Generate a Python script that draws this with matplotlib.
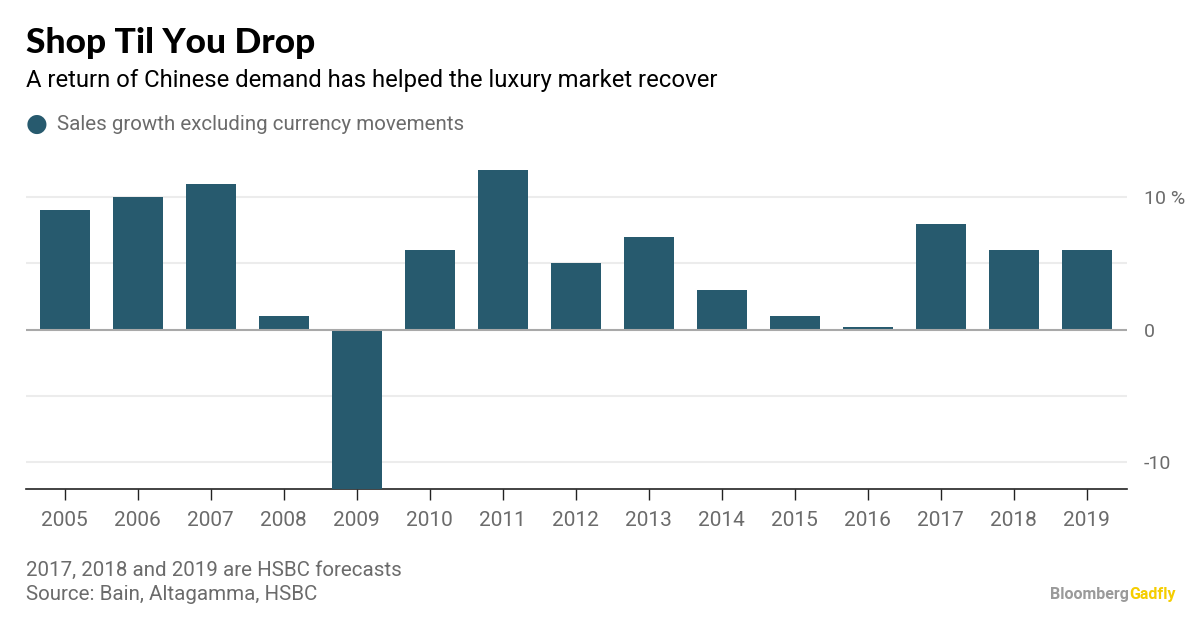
import numpy as np
import matplotlib.pyplot as plt

# data
years = ['2005', '2006', '2007', '2008', '2009', '2010', '2011', '2012',
         '2013', '2014', '2015', '2016', '2017', '2018', '2019']
growth = [9, 10, 11, 1, -13, 6, 12, 5, 7, 3, 1, 0.2, 8, 6, 6]
yticks = [-10, 0, 10]
ytick_labels = ['-10', '0', '10 %']

bar_color = '#275a6e'
grey = '#6b6b6b'
plt.rcParams['font.family'] = ['Roboto', 'DejaVu Sans']

fig = plt.figure(figsize=(12, 6.18), dpi=100)
ax = fig.add_axes([0.0217, 0.2087, 0.9175, 0.522])

x = np.arange(len(years))
ax.bar(x, growth, width=0.68, color=bar_color, zorder=3)

ax.set_xlim(-0.53, len(years) - 1 + 0.55)
ax.set_ylim(-12, 12.3)

# grid
for g in [-10, -5, 5, 10]:
    ax.axhline(g, color='#ececec', lw=1.5, zorder=1)
ax.axhline(0, color='#a9a9a9', lw=1.5, zorder=4)

ax.yaxis.tick_right()
ax.set_yticks(yticks)
ax.set_yticklabels(ytick_labels)
ax.tick_params(axis='y', length=0, pad=12, labelsize=14, labelcolor=grey)

ax.set_xticks(x)
ax.set_xticklabels(years)
ax.tick_params(axis='x', direction='out', length=8, width=1, color='#222222',
               pad=8, labelsize=15, labelcolor=grey)

for s in ['top', 'left', 'right']:
    ax.spines[s].set_visible(False)
ax.spines['bottom'].set_color('#222222')
ax.spines['bottom'].set_linewidth(1.2)

# titles
fig.text(0.0217, 1 - 43 / 618, 'Shop Til You Drop', fontsize=25.5, fontweight='black',
         family=['Lato', 'DejaVu Sans'], color='black', va='center')
fig.text(0.0217, 1 - 80 / 618, 'A return of Chinese demand has helped the luxury market recover',
         fontsize=17.2, color='black', va='center')

# legend
fig.text(37 / 1200, 1 - 124 / 618, '\u25CF', fontsize=18, color=bar_color,
         va='center', ha='center', family='DejaVu Sans')
fig.text(57 / 1200, 1 - 124 / 618, 'Sales growth excluding currency movements',
         fontsize=14.8, color=grey, va='center')

# footer
fig.text(0.0217, 1 - 570 / 618, '2017, 2018 and 2019 are HSBC forecasts',
         fontsize=14.8, color=grey, va='center')
fig.text(0.0217, 1 - 594 / 618, 'Source: Bain, Altagamma, HSBC',
         fontsize=14.8, color=grey, va='center')

t = fig.text(1050 / 1200, 1 - 595 / 618, 'Bloomberg', fontsize=11.5, fontweight='bold',
             color='#9a9a9a', va='center')
fig.canvas.draw()
bb = t.get_window_extent()
fig.text(bb.x1 / 1200, 1 - 595 / 618, 'Gadfly', fontsize=11.5, fontweight='bold',
         color='#f5cd00', va='center')

fig.savefig('out.png', dpi=100)
